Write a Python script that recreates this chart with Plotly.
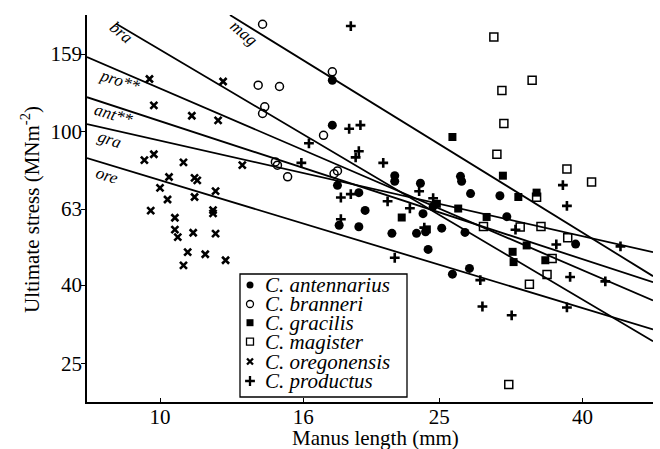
import numpy as np
import plotly.graph_objects as go

# ---------------- data (manus length mm, ultimate stress MN m^-2) ----------------
species = ["C. antennarius", "C. branneri", "C. gracilis",
           "C. magister", "C. oregonensis", "C. productus"]

ant_x = [17.6, 17.6, 21.6, 21.6, 23.5, 26.8, 26.9, 27.7, 30.5, 17.9, 19.2, 19.6, 18.0,
         19.2, 21.4, 23.2, 23.7, 25.2, 27.2, 24.1, 27.6, 26.1, 31.2, 39.1, 24.5, 23.9]
ant_y = [136, 104, 76.9, 74.4, 73.5, 76.6, 74.4, 69.1, 68.2, 72.6, 69.5, 62.5, 57.2,
         56.7, 54.5, 54.5, 61.3, 56.2, 54.8, 49.5, 44.2, 42.7, 60.2, 51.1, 64.0, 55.0]

bra_x = [14.0, 13.8, 14.8, 14.1, 14.0, 17.6, 17.1, 14.6, 14.7, 15.2, 17.7, 17.9]
bra_y = [190, 132, 131, 116, 111.5, 143, 97.9, 83.5, 81.9, 76.4, 77.8, 79.1]

gra_x = [26.1, 30.8, 32.4, 34.4, 22.1, 26.6, 29.2, 33.3, 31.8, 31.9, 35.4, 24.0, 24.8]
gra_y = [96.9, 76.9, 67.7, 69.5, 59.9, 63.2, 60.1, 50.7, 48.8, 45.9, 46.4, 55.8, 65.0]

mag_x = [29.9, 33.9, 30.7, 30.9, 30.2, 38.0, 41.2, 34.4, 28.9, 32.6, 34.9, 38.1,
         36.2, 35.6, 33.6, 31.4]
mag_y = [176, 136, 128, 105, 87.4, 80, 74, 67.6, 56.8, 56.6, 56.8, 53.1,
         46.9, 42.6, 40.2, 22.1]

ore_x = [9.66, 12.3, 9.8, 11.1, 12.1, 9.5, 9.8, 10.8, 13.1, 10.3, 11.2, 11.3, 10.0,
         12.0, 10.25, 11.2, 9.7, 11.9, 11.9, 10.5, 10.5, 10.6, 11.15, 12.0, 10.95,
         11.6, 10.8, 12.4]
ore_y = [137, 135, 117, 110, 107, 84.4, 87.4, 83.3, 81.9, 76.3, 75.9, 74.8, 71.5,
         70.1, 66.7, 67.7, 62.4, 62.6, 61.4, 59.8, 55.7, 53.3, 54.7, 54.4, 48.7,
         48.1, 45.0, 46.4]

pro_x = [18.7, 18.6, 19.3, 16.3, 19.2, 19.0, 20.8, 15.9, 18.1, 18.7, 21.1, 23.4, 22.7,
         24.5, 18.1, 23.8, 21.6, 32.1, 28.6, 28.8, 31.7, 36.7, 38.4, 38.0, 43.1, 45.3,
         37.5, 38.0]
pro_y = [188, 101.8, 104, 93.3, 89.0, 85.8, 83.0, 83.0, 67.5, 68.9, 66.0, 70.1, 63.3,
         67.2, 59.3, 56.4, 47.1, 55.7, 41.2, 35.2, 33.4, 51.0, 42.0, 35.0, 40.9, 50.4,
         72.7, 64.2]

# regression lines (log-log), endpoints in data units
line_labels = ["mag", "bra", "pro**", "ant**", "gra", "ore"]
line_x0 = [12.58, 8.66, 7.87, 7.87, 7.87, 7.87]
line_y0 = [200.8, 190.6, 156.2, 122.9, 104.6, 85.4]
line_x1 = [50.4, 50.4, 50.4, 50.4, 50.4, 50.4]
line_y1 = [42.2, 28.6, 36.5, 40.7, 48.7, 30.7]

x_ticks = [10, 16, 25, 40]
y_ticks = [25, 40, 63, 100, 159]
x_range = [7.87, 50.4]
y_range = [19.9, 200.8]

# ---------------- styling ----------------
FONT = "Liberation Serif"
W, H = 660, 449
ML, MR, MT, MB = 87, 7, 15, 47
PW, PH = W - ML - MR, H - MT - MB


def px(x):
    return (x - ML) / PW


def py(y):
    return (H - MB - y) / PH


styles = [
    dict(symbol="circle", size=9, color="black", line=dict(width=0)),
    dict(symbol="circle-open", size=8, color="black", line=dict(width=1.5)),
    dict(symbol="square", size=8, color="black", line=dict(width=0)),
    dict(symbol="square-open", size=8, color="black", line=dict(width=1.5)),
    dict(symbol="x-thin-open", size=7, color="black", line=dict(width=2.6)),
    dict(symbol="cross-thin-open", size=7, color="black", line=dict(width=2.6)),
]
legend_styles = [
    dict(symbol="circle", size=7, color="black", line=dict(width=0)),
    dict(symbol="circle-open", size=7, color="black", line=dict(width=1.3)),
    dict(symbol="square", size=7, color="black", line=dict(width=0)),
    dict(symbol="square-open", size=7, color="black", line=dict(width=1.3)),
    dict(symbol="x-thin-open", size=6, color="black", line=dict(width=2.3)),
    dict(symbol="cross-thin-open", size=7, color="black", line=dict(width=2.3)),
]

xs = [ant_x, bra_x, gra_x, mag_x, ore_x, pro_x]
ys = [ant_y, bra_y, gra_y, mag_y, ore_y, pro_y]

fig = go.Figure()

for i in range(len(line_labels)):
    fig.add_trace(go.Scatter(
        x=[line_x0[i], line_x1[i]], y=[line_y0[i], line_y1[i]],
        mode="lines", line=dict(color="black", width=1.8),
        showlegend=False, hoverinfo="skip"))

for name, x, y, st in zip(species, xs, ys, styles):
    fig.add_trace(go.Scatter(x=x, y=y, mode="markers", name=name,
                             marker=st, showlegend=False, cliponaxis=False))

# manual legend (markers on an overlay 0..1 axis pair)
leg_rows_px = [285, 304, 322.7, 341.7, 361.5, 381]
for i, (name, st) in enumerate(zip(species, legend_styles)):
    fig.add_trace(go.Scatter(x=[px(250)], y=[py(leg_rows_px[i])], mode="markers",
                             marker=st, xaxis="x2", yaxis="y2",
                             showlegend=False, hoverinfo="skip"))

annotations = []
for i, name in enumerate(species):
    annotations.append(dict(
        x=px(263), y=py(leg_rows_px[i]), xref="paper", yref="paper",
        text="<i>" + name + "</i>", showarrow=False, xanchor="left",
        yanchor="middle", font=dict(family=FONT, size=21, color="black")))

label_pos = {
    "mag": (243, 33, 40),
    "bra": (121, 33, 40),
    "pro**": (119, 81, 18),
    "ant**": (113, 115, 17),
    "gra": (110, 139, 18),
    "ore": (107, 175, 18),
}
for lab in line_labels:
    lx, ly, ang = label_pos[lab]
    annotations.append(dict(
        x=px(lx), y=py(ly), xref="paper", yref="paper", text="<i>" + lab + "</i>",
        showarrow=False, textangle=ang, xanchor="center", yanchor="middle",
        font=dict(family=FONT, size=17, color="black")))

annotations.append(dict(
    x=px(375), y=py(438), xref="paper", yref="paper", text="Manus length (mm)",
    showarrow=False, xanchor="center", yanchor="middle",
    font=dict(family=FONT, size=21, color="black")))
annotations.append(dict(
    x=px(30), y=py(210), xref="paper", yref="paper",
    text="Ultimate stress (MNm<sup>-2</sup>)", textangle=-90,
    showarrow=False, xanchor="center", yanchor="middle",
    font=dict(family=FONT, size=21, color="black")))

shapes = [dict(type="rect", xref="paper", yref="paper",
               x0=px(240), x1=px(407), y0=py(397), y1=py(274),
               line=dict(color="black", width=1.3), fillcolor="white", layer="below")]

fig.update_layout(
    width=W, height=H,
    margin=dict(l=ML, r=MR, t=MT, b=MB, pad=0),
    paper_bgcolor="white", plot_bgcolor="white",
    showlegend=False,
    font=dict(family=FONT, size=21, color="black"),
    xaxis=dict(type="log", range=[np.log10(x_range[0]), np.log10(x_range[1])],
               tickvals=x_ticks, ticktext=[str(v) for v in x_ticks],
               showgrid=False, zeroline=False, showline=True, linecolor="black",
               linewidth=1.5, ticks="inside", ticklen=4, tickcolor="black",
               ticklabelstandoff=-5,
               tickfont=dict(family=FONT, size=21, color="black")),
    yaxis=dict(type="log", range=[np.log10(y_range[0]), np.log10(y_range[1])],
               tickvals=y_ticks, ticktext=[str(v) for v in y_ticks],
               showgrid=False, zeroline=False, showline=True, linecolor="black",
               linewidth=1.5, ticks="outside", ticklen=4, tickcolor="black",
               ticklabelstandoff=-5,
               tickfont=dict(family=FONT, size=21, color="black")),
    xaxis2=dict(overlaying="x", anchor="y2", range=[0, 1], visible=False),
    yaxis2=dict(overlaying="y", anchor="x2", range=[0, 1], visible=False),
    annotations=annotations, shapes=shapes,
)

fig.write_html("out.html")
